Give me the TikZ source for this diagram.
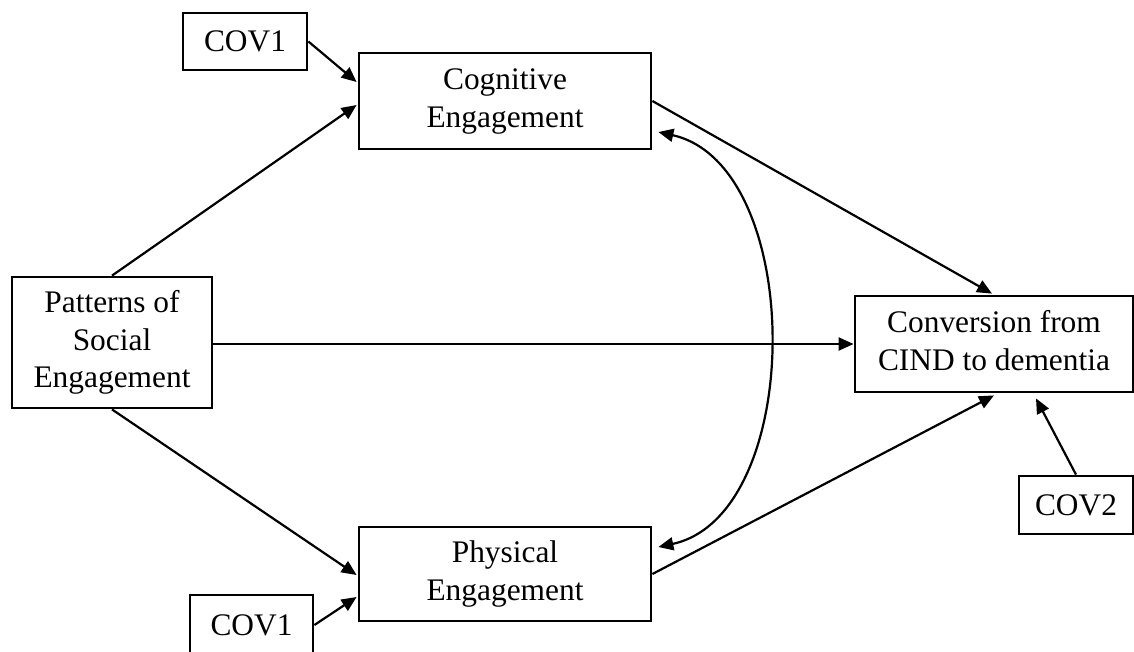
\documentclass[tikz,border=0pt]{standalone}
\usepackage{fontspec}
\setmainfont{Liberation Serif}
\usetikzlibrary{arrows.meta,calc}
% centred stack of lines with strut-based spacing
\newcommand{\linestack}[1]{\begin{tabular}{@{}c@{}}#1\end{tabular}}
\begin{document}
\begin{tikzpicture}[x=1pt,y=-1pt,
  box/.style={draw,line width=2.8pt,inner sep=0pt,
    font=\fontsize{31.4}{37.5}\selectfont},
  link/.style={line width=2.2pt,-{Triangle[length=15pt,width=13pt]}},
  corr/.style={line width=2.2pt,{Triangle[length=15pt,width=13pt]}-{Triangle[length=15pt,width=13pt]}}]
\useasboundingbox (0,0) rectangle (1134,651);

% boxes
\node[box,minimum width=124pt,minimum height=57pt] (cov1a) at (245,41.5) {COV1};
\node[box,minimum width=292pt,minimum height=96pt] (cog) at (505,101) {\linestack{Cognitive\\Engagement}};
\node[box,minimum width=200pt,minimum height=131pt] (pat) at (112,342.5) {\linestack{Patterns of\\Social\\Engagement}};
\node[box,minimum width=278pt,minimum height=96pt] (conv) at (994,344) {\linestack{Conversion from\\CIND to dementia}};
\node[box,minimum width=292pt,minimum height=94pt] (phys) at (505,574) {\linestack{Physical\\Engagement}};
\node[box,minimum width=123pt,minimum height=60pt] (cov1b) at (251.5,625) {COV1};
\node[box,minimum width=114pt,minimum height=58pt] (cov2) at (1076,505) {COV2};

% paths
\draw[link] (cov1a.east) -- ($(cog.west)+(-1,-19)$);
\draw[link] (pat.north) -- ($(cog.west)+(-1,4)$);
\draw[link] (cog.east) -- ($(conv.north)+(-2,-1)$);
\draw[link] (pat.east |- conv.west) -- (conv.west);
\draw[link] (pat.south) -- ($(phys.west)+(-1,1)$);
\draw[link] (cov1b.east) -- ($(phys.west)+(-1,23)$);
\draw[link] (phys.east) -- ($(conv.south)+(0,2)$);
\draw[link] (cov2.north) -- ($(conv.south)+(42,5)$);

% correlation between the two mediators
\draw[corr] ($(cog.east)+(6,31)$) .. controls (806,165) and (806,515) .. ($(phys.east)+(6,-27)$);
\end{tikzpicture}
\end{document}
